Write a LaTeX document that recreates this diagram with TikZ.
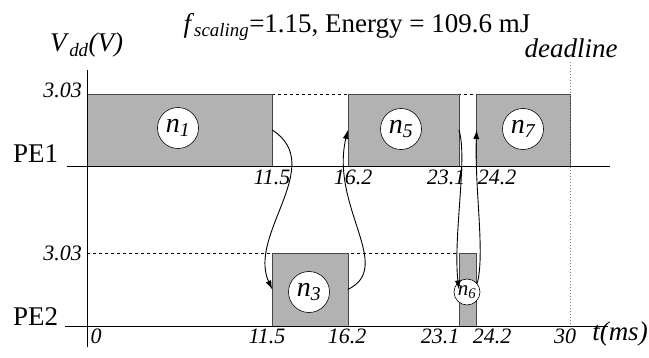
\documentclass[tikz,border=0pt]{standalone}
\usepackage{fontspec}
\setmainfont{Liberation Serif}
\usetikzlibrary{arrows.meta}

\begin{document}
\begin{tikzpicture}[
    x=1pt, y=1pt,
    task/.style={draw=gray!55!black, line width=0.6pt, fill=gray!60, inner sep=0pt, outer sep=0pt, anchor=south west},
    tid/.style={circle, draw=black, line width=0.6pt, fill=white, minimum size=41pt, inner sep=0pt, font=\fontsize{28}{28}\selectfont\itshape},
    tick/.style={font=\fontsize{22}{22}\selectfont\itshape, inner sep=0pt, anchor=base},
    big/.style={font=\fontsize{27}{27}\selectfont, inner sep=0pt},
    msg/.style={line width=0.9pt, -{Latex[length=9pt,width=6pt]}},
    axis/.style={line width=1pt}
]
\useasboundingbox (0,0) rectangle (649,357);

% voltage levels
\draw[dashed, line width=0.8pt] (272.2,263) -- (476.6,263);
\draw[dashed, line width=0.8pt] (87,104) -- (458.9,104);

% tasks on PE1
\node[task, minimum width=185.2pt, minimum height=72pt] (t1) at (87,191) {};
\node[task, minimum width=111.1pt, minimum height=72pt] (t5) at (347.8,191) {};
\node[task, minimum width=93.4pt, minimum height=72pt] (t7) at (476.6,191) {};
% tasks on PE2
\node[task, minimum width=75.6pt, minimum height=73pt] (t3) at (272.2,31) {};
\node[task, minimum width=17.7pt, minimum height=73pt] (t6) at (458.9,31) {};

% deadline
\draw[gray, dotted, line width=1pt] (570,295) -- (570,31);

% axes
\draw[axis] (67,191) -- (610,191);
\draw[axis] (65,31) -- (608,31);
\draw[axis] (87,287) -- (87,10);

% task ids
\node[tid] (c1) at (178,229) {n\textsubscript{\itshape 1}};
\node[tid] (c5) at (401,228) {n\textsubscript{\itshape 5}};
\node[tid] (c7) at (523,228) {n\textsubscript{\itshape 7}};
\node[tid] (c3) at (309,65) {n\textsubscript{\itshape 3}};
\node[tid, minimum size=26pt, font=\fontsize{21}{21}\selectfont\itshape] (c6) at (467,65) {n\textsubscript{\itshape 6}};

% communication
\draw[msg] (t1.east) .. controls +(55,-35) and +(-25,55) .. (t3.west);
\draw[msg] (t3.east) .. controls +(47,22.5) and +(-18,-77) .. (t5.west);
\draw[msg] (t5.east) .. controls +(9,-27) and +(-6,52.5) .. (t6.west);
\draw[msg] (c6.40) .. controls +(8,30) and +(-2,-60) .. (t7.west);

% labels
\node[big, anchor=center] (title) at (357,330) {\textit{f}\textsubscript{\itshape scaling}=1.15, Energy = 109.6 mJ};
\node[big, anchor=base west] (vdd) at (50,305) {\textit{V}\textsubscript{\itshape dd}\textit{(V)}};
\node[big, anchor=base, font=\fontsize{27}{27}\selectfont\itshape] (dl) at (571,299) {deadline};
\node[big, anchor=base west] (pe1) at (13,194) {PE1};
\node[big, anchor=base west] (pe2) at (13,32) {PE2};
\node[tick, anchor=base east] (v1) at (82,259) {3.03};
\node[tick, anchor=base east] (v2) at (82,97) {3.03};

% time ticks
\node[tick] (a1) at (272,173) {11.5};
\node[tick] (a2) at (353,173) {16.2};
\node[tick] (a3) at (446,173) {23.1};
\node[tick] (a4) at (497,173) {24.2};
\node[tick] (b0) at (96,14) {0};
\node[tick] (b1) at (267,14) {11.5};
\node[tick] (b2) at (347,14) {16.2};
\node[tick] (b3) at (440,14) {23.1};
\node[tick] (b4) at (492,14) {24.2};
\node[tick] (b5) at (565,14) {30};
\node[big, anchor=base, font=\fontsize{27}{27}\selectfont\itshape] (tms) at (620,17) {t(ms)};
\end{tikzpicture}
\end{document}
